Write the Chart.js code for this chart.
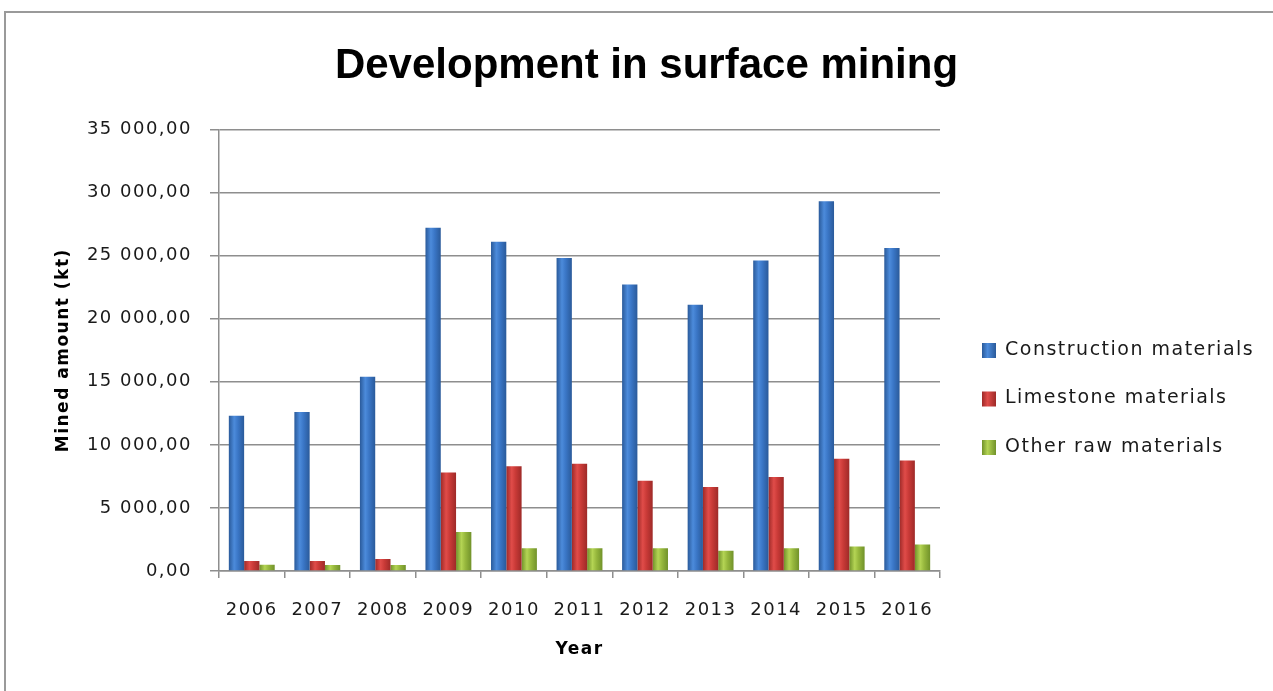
<!DOCTYPE html>
<html><head><meta charset="utf-8">
<script src="https://cdn.jsdelivr.net/npm/chart.js@4.4.1/dist/chart.umd.min.js"></script>
<style>
html,body{margin:0;padding:0;background:#fff;overflow:hidden;}
#frame{position:absolute;left:4px;top:11px;width:1300px;height:700px;border-left:2px solid #9a9a9a;border-top:2px solid #9a9a9a;}
#wrap{position:absolute;left:0;top:0;width:1273px;height:691px;}
</style></head><body>
<div id="frame"></div>
<div id="wrap"><canvas id="c" width="1273" height="691"></canvas></div>
<script>
const chartTitle = 'Development in surface mining';
const years = ['2006','2007','2008','2009','2010','2011','2012','2013','2014','2015','2016'];
const seriesNames = ['Construction materials','Limestone materials','Other raw materials'];
const construction = [12300,12600,15400,27200,26100,24800,22700,21100,24600,29300,25600];
const limestone    = [800,800,950,7800,8300,8500,7150,6650,7450,8900,8750];
const otherRaw     = [500,480,480,3100,1800,1800,1800,1600,1800,1950,2100];
const yMin = 0, yMax = 35000, yStep = 5000;

const palettes = [
  {dark:'#2a5a9a', light:'#4c8bdb', mid:'#3a76c6'},
  {dark:'#9e2a28', light:'#e04c49', mid:'#c93a37'},
  {dark:'#71922a', light:'#b4d454', mid:'#97b83d'}
];

function barFill(p){
  return (c) => {
    const el = c.element;
    if (!el || !isFinite(el.x) || !el.width) return p.mid;
    const g = c.chart.ctx.createLinearGradient(el.x - el.width/2, 0, el.x + el.width/2, 0);
    g.addColorStop(0, p.dark); g.addColorStop(0.35, p.light);
    g.addColorStop(0.6, p.mid); g.addColorStop(1, p.dark);
    return g;
  };
}

function fmt(v){
  return Math.round(v).toString().replace(/\B(?=(\d{3})+(?!\d))/g, ' ') + ',00';
}

const gridColor = '#8e8e8e';

const spacingPlugin = {
  id:'spacing',
  beforeDraw(chart){ chart.ctx.letterSpacing = '1.5px'; },
  afterLayout(chart){
    const t = chart.titleBlock;
    if (t){ t.left = 20; t.right = 1273; t.width = 1253; }
  },
  afterDraw(chart){
    const ctx = chart.ctx;
    ctx.save();
    ctx.letterSpacing = '1.5px';
    ctx.font = '19px "DejaVu Sans"';
    ctx.textBaseline = 'middle';
    ctx.textAlign = 'left';
    chart.data.datasets.forEach((ds, i) => {
      const y = 350 + i * 48.5;
      const p = palettes[i];
      const g = ctx.createLinearGradient(982, 0, 996, 0);
      g.addColorStop(0, p.dark); g.addColorStop(0.4, p.light); g.addColorStop(1, p.dark);
      ctx.fillStyle = g;
      ctx.fillRect(982, y - 7, 14, 15);
      ctx.fillStyle = '#1a1a1a';
      ctx.fillText(ds.label, 1005, y);
    });
    ctx.restore();
    ctx.letterSpacing = '0px';
  }
};

const chart = new Chart(document.getElementById('c'), {
  type:'bar',
  data:{
    labels: years,
    datasets:[
      {label: seriesNames[0], data: construction, backgroundColor: barFill(palettes[0])},
      {label: seriesNames[1], data: limestone, backgroundColor: barFill(palettes[1])},
      {label: seriesNames[2], data: otherRaw, backgroundColor: barFill(palettes[2])}
    ]
  },
  options:{
    responsive:false,
    animation:false,
    devicePixelRatio:1,
    categoryPercentage:0.7,
    barPercentage:1,
    layout:{padding:{left:0, right:333, top:0, bottom:0}},
    plugins:{
      legend:{display:false},
      tooltip:{enabled:false},
      title:{display:true, text: chartTitle, color:'#000',
        font:{family:'Liberation Sans', size:42, weight:'bold'},
        padding:{top:41, bottom:38}}
    },
    scales:{
      x:{
        grid:{display:true, drawOnChartArea:false, drawTicks:true, tickLength:7, offset:true, color:gridColor, lineWidth:1.5},
        border:{display:true, color:gridColor, width:1.5},
        ticks:{padding:22, autoSkip:false, maxRotation:0, minRotation:0, color:'#1a1a1a', font:{family:'DejaVu Sans', size:18}},
        title:{display:true, text:'Year', color:'#000', font:{family:'DejaVu Sans', size:17, weight:'bold'}, padding:{top:0, bottom:31}},
        afterFit(s){ s.height = 120; }
      },
      y:{
        min:yMin, max:yMax,
        ticks:{stepSize:yStep, padding:18, color:'#1a1a1a', font:{family:'DejaVu Sans', size:18}, callback: fmt},
        grid:{color:gridColor, lineWidth:1.5, tickLength:9, drawTicks:true},
        border:{display:true, color:gridColor, width:1.5},
        title:{display:true, text:'Mined amount (kt)', color:'#000', font:{family:'DejaVu Sans', size:17, weight:'bold'}, padding:{top:53, bottom:0}},
        afterFit(s){ s.width = 219; }
      }
    }
  },
  plugins:[spacingPlugin]
});

const tb = chart.titleBlock;
if (tb){
  const origDraw = tb.draw.bind(tb);
  tb.draw = function(a){ const ctx = this.ctx; const ls = ctx.letterSpacing; ctx.letterSpacing = '0px'; origDraw(a); ctx.letterSpacing = ls; };
}
chart.update('none');
</script>
</body></html>
